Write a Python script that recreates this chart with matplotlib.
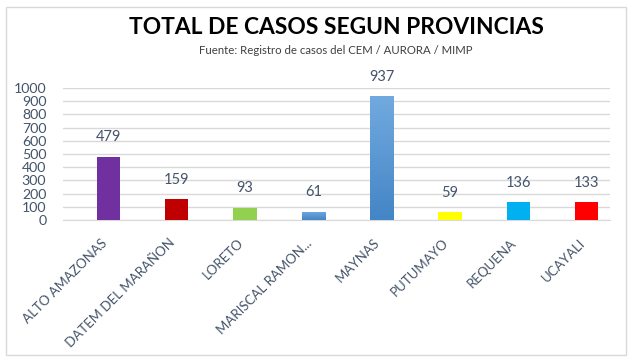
import matplotlib
matplotlib.use("Agg")
import matplotlib.pyplot as plt
import matplotlib.transforms as mtransforms
from matplotlib.patches import Rectangle
import numpy as np

# data
provincias = ["ALTO AMAZONAS", "DATEM DEL MARAÑON", "LORETO", "MARISCAL RAMON...",
              "MAYNAS", "PUTUMAYO", "REQUENA", "UCAYALI"]
casos = [479, 159, 93, 61, 937, 59, 136, 133]
colores = ["#7030A0", "#C00000", "#92D050", "#5B9BD5",
           "#5B9BD5", "#FFFF00", "#00B0F0", "#FF0000"]
degradado = [False, False, False, True, True, False, False, False]
y_ticks = list(range(0, 1001, 100))

TEXT = "#44546A"
GRID = "#D9D9D9"

plt.rcParams["font.family"] = ["Lato", "DejaVu Sans"]

fig = plt.figure(figsize=(6.33, 3.63), dpi=100)
fig.patches.append(Rectangle((6 / 633, 8 / 363), 620 / 633, 348 / 363,
                             transform=fig.transFigure, fill=False,
                             edgecolor=GRID, linewidth=1))

ax = fig.add_axes([63 / 633, 143 / 363, 547 / 633, 132 / 363])
x = np.arange(len(provincias))
bars = ax.bar(x, casos, width=0.34, color=colores, zorder=3)

# vertical gradient on the blue bars, like the Excel fill
grad = np.linspace(0, 1, 256).reshape(-1, 1)
cmap = matplotlib.colors.LinearSegmentedColormap.from_list("azul", ["#4485C6", "#72AADF"])
for bar, g in zip(bars, degradado):
    if g:
        x0, w, h = bar.get_x(), bar.get_width(), bar.get_height()
        im = ax.imshow(grad, extent=(x0, x0 + w, 0, h), origin="lower",
                       cmap=cmap, aspect="auto", zorder=4)
        im.set_clip_path(bar)

for xi, v in zip(x, casos):
    ax.annotate(str(v), (xi, v), xytext=(0, 9), textcoords="offset points",
                ha="center", va="bottom", fontsize=10.5, color=TEXT,
                annotation_clip=False)

ax.set_xlim(-0.666, 7.343)
ax.set_ylim(0, 1000)
ax.set_yticks(y_ticks)
ax.yaxis.grid(True, color=GRID, linewidth=1, zorder=0)
for s in ["top", "right", "left"]:
    ax.spines[s].set_visible(False)
ax.spines["bottom"].set_color(GRID)
ax.tick_params(axis="y", length=0, pad=12, labelsize=10.2, labelcolor=TEXT)
ax.tick_params(axis="x", length=0, pad=12, labelsize=9.5, labelcolor=TEXT)
ax.set_xticks(x)
ax.set_xticklabels(provincias, rotation=45, ha="right", va="top",
                   rotation_mode="anchor")
shift = mtransforms.ScaledTranslation(-0.08, 0, fig.dpi_scale_trans)
for lab in ax.get_xticklabels():
    lab.set_transform(lab.get_transform() + shift)

fig.text(336 / 633, 1 - 28 / 363, "TOTAL DE CASOS SEGUN PROVINCIAS",
         ha="center", va="center", fontsize=16.4, fontweight="bold", color="black")
fig.text(336 / 633, 1 - 50 / 363, "Fuente: Registro de casos del CEM / AURORA / MIMP",
         ha="center", va="center", fontsize=8.2, color="#404040")

fig.savefig("out.png", dpi=100)
